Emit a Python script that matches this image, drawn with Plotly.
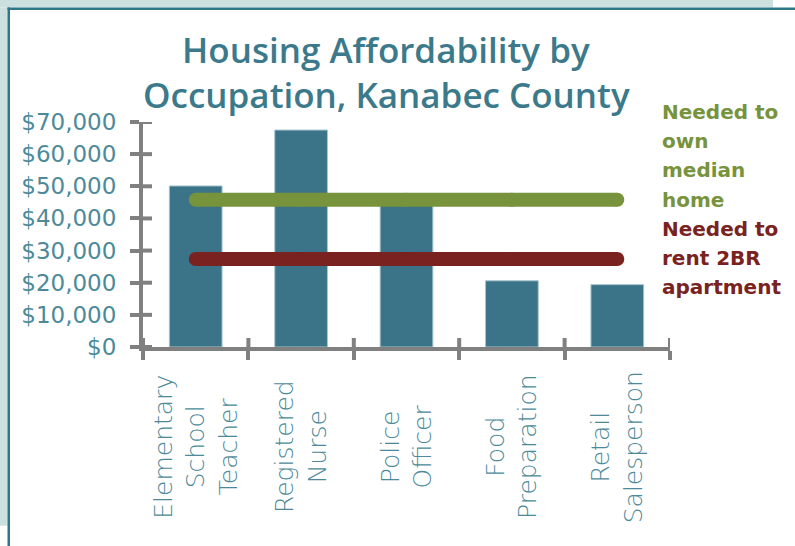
import plotly.graph_objects as go

# ---------------- data ----------------
categories = ["Elementary School Teacher", "Registered Nurse", "Police Officer",
              "Food Preparation", "Retail Salesperson"]
category_labels = ["Elementary<br>School<br>Teacher", "Registered<br>Nurse",
                   "Police<br>Officer", "Food<br>Preparation", "Retail<br>Salesperson"]
wages = [50100, 67500, 45500, 20600, 19400]
own_needed = 45800
rent_needed = 27400
own_label_lines = ["Needed to", "own", "median", "home"]
rent_label_lines = ["Needed to", "rent 2BR", "apartment"]
y_tick_vals = [0, 10000, 20000, 30000, 40000, 50000, 60000, 70000]
y_tick_text = ["$0", "$10,000", "$20,000", "$30,000", "$40,000", "$50,000", "$60,000", "$70,000"]
title_lines = ["Housing Affordability by", "Occupation, Kanabec County"]

# ---------------- styling / geometry ----------------
W, H = 795, 546
L, R, T, B = 143, 670, 122, 347


def px2x(px):
    return (px - L) / (R - L)


def py2y(py):
    return (B - py) / (B - T)


BAR = "#3b7488"
GREEN = "#77933c"
RED = "#7a2220"
TEAL_TXT = "#3c7a8b"
TICK_TXT = "#4d8a99"
AXIS = "#808080"
TICK_IN = 9  # inner half of the crossing ticks, px

fig = go.Figure()
fig.add_trace(go.Bar(x=categories, y=wages, marker=dict(color=BAR, line=dict(color="#a6c4cc", width=1)),
                     hoverinfo="skip"))
fig.add_trace(go.Scatter(x=categories, y=[own_needed] * len(categories), mode="lines+markers",
                         line=dict(color=GREEN, width=14), marker=dict(color=GREEN, size=14),
                         hoverinfo="skip"))
fig.add_trace(go.Scatter(x=categories, y=[rent_needed] * len(categories), mode="lines+markers",
                         line=dict(color=RED, width=14), marker=dict(color=RED, size=14),
                         hoverinfo="skip"))

annotations = []
for i, t in enumerate(title_lines):
    annotations.append(dict(text=t, xref="paper", yref="paper", x=px2x(386), y=py2y(50 + 44 * i),
                            xanchor="center", yanchor="middle", showarrow=False,
                            font=dict(family="Open Sans", size=35, color=TEAL_TXT, weight=600)))
for i, t in enumerate(own_label_lines + rent_label_lines):
    col = GREEN if i < len(own_label_lines) else RED
    annotations.append(dict(text=t, xref="paper", yref="paper", x=px2x(660), y=py2y(112 + 29.2 * i),
                            xanchor="left", yanchor="middle", showarrow=False,
                            font=dict(family="DejaVu Sans", size=20, color=col, weight=700)))
for c, lab in zip(categories, category_labels):
    annotations.append(dict(text=lab, xref="x", yref="paper", x=c, y=py2y(447),
                            xanchor="center", yanchor="middle", textangle=-90, align="center",
                            showarrow=False,
                            font=dict(family="DejaVu Sans", size=25, color=TICK_TXT, weight=300)))

shapes = [
    dict(type="rect", xref="paper", yref="paper", x0=px2x(0), x1=px2x(773), y0=py2y(0), y1=py2y(7.5),
         fillcolor="#cde0e0", line=dict(width=0)),
    dict(type="rect", xref="paper", yref="paper", x0=px2x(0), x1=px2x(7.5), y0=py2y(7.5), y1=py2y(525.7),
         fillcolor="#cde0e0", line=dict(width=0)),
    dict(type="rect", xref="paper", yref="paper", x0=px2x(7.5), x1=px2x(795), y0=py2y(7.5), y1=py2y(10),
         fillcolor="#2f7686", line=dict(width=0)),
    dict(type="rect", xref="paper", yref="paper", x0=px2x(7.5), x1=px2x(10), y0=py2y(7.5), y1=py2y(546),
         fillcolor="#2f7686", line=dict(width=0)),
]
# inner halves of the crossing tick marks (positions from the axes' own scales)
for v in y_tick_vals:
    shapes.append(dict(type="line", xref="paper", yref="y", x0=0, x1=px2x(L + TICK_IN), y0=v, y1=v,
                       line=dict(color=AXIS, width=4)))
for i in range(len(categories) + 1):
    shapes.append(dict(type="line", xref="x", yref="paper", x0=i - 0.5, x1=i - 0.5, y0=0,
                       y1=py2y(B - TICK_IN), line=dict(color=AXIS, width=4)))

fig.update_layout(
    width=W, height=H, autosize=False,
    margin=dict(l=L, r=W - R, t=T, b=H - B, pad=0),
    paper_bgcolor="white", plot_bgcolor="white",
    showlegend=False, bargap=0.5, hovermode=False,
    xaxis=dict(type="category", categoryorder="array", categoryarray=categories,
               range=[-0.5, len(categories) - 0.5], tickson="boundaries",
               ticks="outside", ticklen=9, tickwidth=4, tickcolor=AXIS, showticklabels=False,
               showgrid=False, zeroline=False, showline=True, linecolor=AXIS, linewidth=4),
    yaxis=dict(range=[0, 70000], tickvals=y_tick_vals, ticktext=y_tick_text,
               ticks="outside", ticklen=9, tickwidth=4, tickcolor=AXIS,
               showgrid=False, zeroline=False, showline=True, linecolor=AXIS, linewidth=4,
               ticklabelstandoff=9,
               tickfont=dict(family="DejaVu Sans", size=23, color=TICK_TXT)),
    annotations=annotations,
    shapes=shapes,
)

fig.write_html("out.html")
